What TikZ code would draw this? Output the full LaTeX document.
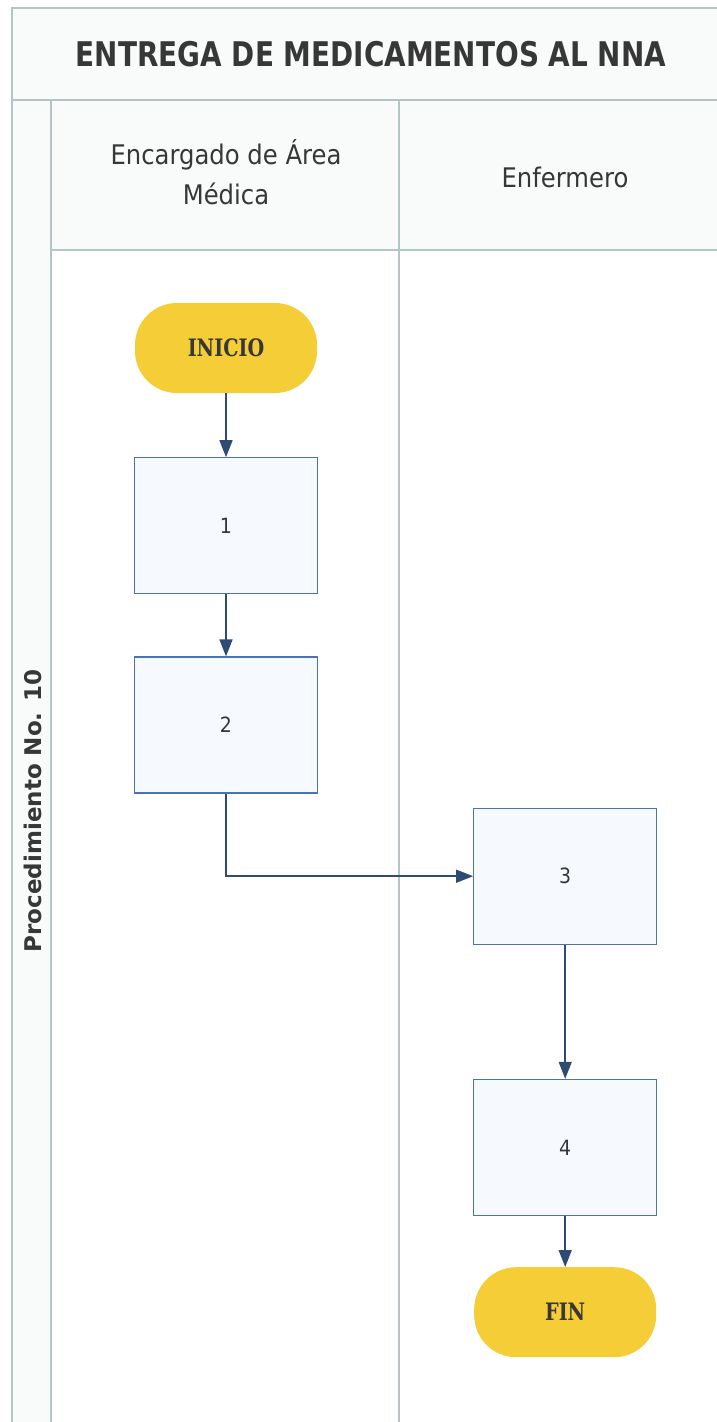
\documentclass[tikz,border=0pt]{standalone}
\usepackage{fontspec}
\setmainfont{DejaVu Sans}
\newfontfamily\titlefont[FakeStretch=0.82]{DejaVu Sans}
\newfontfamily\lanefont[FakeStretch=0.9]{DejaVu Sans}
\newfontfamily\endfont[FakeStretch=0.8]{DejaVu Serif}
\usetikzlibrary{positioning, arrows.meta}
\definecolor{laneline}{RGB}{178,198,198}
\definecolor{bandfill}{RGB}{249,251,251}
\definecolor{termfill}{RGB}{245,205,55}
\definecolor{boxline}{RGB}{75,115,175}
\definecolor{boxfill}{RGB}{246,249,253}
\definecolor{flowline}{RGB}{45,75,115}
\definecolor{txtgray}{RGB}{55,55,55}

\begin{document}
\begin{tikzpicture}[
  x=1pt, y=-1pt,
  node distance=62pt,
  lane/.style={draw=laneline, line width=1.2pt},
  terminal/.style={fill=termfill, rounded corners=42pt, minimum width=182pt, minimum height=90pt, text=txtgray, font=\endfont\bfseries\fontsize{24}{26}\selectfont},
  stepbox/.style={draw=boxline, fill=boxfill, line width=1.2pt, minimum width=183pt, minimum height=136pt, text=txtgray, font=\lanefont\fontsize{21}{24}\selectfont},
  header/.style={align=center, text=txtgray, font=\lanefont\fontsize{27}{40}\selectfont},
  flecha/.style={draw=flowline, line width=1.5pt, -{Triangle[length=17pt,width=13pt]}}
]
% frame of the swimlanes
\fill[white] (0,0) rectangle (717,1422);
\useasboundingbox (0,0) rectangle (717,1422);
\fill[bandfill] (12,8) rectangle (717,100);
\fill[bandfill] (51,100) rectangle (717,250);
\fill[bandfill] (12,100) rectangle (51,1422);
\draw[lane] (717,8) -- (12,8) -- (12,1422);
\draw[lane] (12,100) -- (717,100);
\draw[lane] (51,100) -- (51,1422);
\draw[lane] (51,250) -- (717,250);
\draw[lane] (399,100) -- (399,1422);

\node[text=txtgray, font=\titlefont\bfseries\fontsize{34}{40}\selectfont] (titulo) at (371,54) {ENTREGA DE MEDICAMENTOS AL NNA};
\node[header] (medico) at (226,172) {Encargado de Área\\Médica};
\node[header] (enfermero) at (565,177) {Enfermero};
\node[rotate=90, text=txtgray, font=\bfseries\fontsize{23}{26}\selectfont] (proc) at (33,811) {Procedimiento No. 10};

% flow
\node[terminal] (inicio) at (226,348) {INICIO};
\node[stepbox, below=64pt of inicio] (paso1) {1};
\node[stepbox, below=of paso1] (paso2) {2};
\node[stepbox, below right=14pt and 155pt of paso2] (paso3) {3};
\node[stepbox, below=134pt of paso3] (paso4) {4};
\node[terminal, below=51pt of paso4] (fin) {FIN};

\draw[flecha] (inicio) -- (paso1);
\draw[flecha] (paso1) -- (paso2);
\draw[flecha] (paso2) |- (paso3);
\draw[flecha] (paso3) -- (paso4);
\draw[flecha] (paso4) -- (fin);
\end{tikzpicture}
\end{document}
